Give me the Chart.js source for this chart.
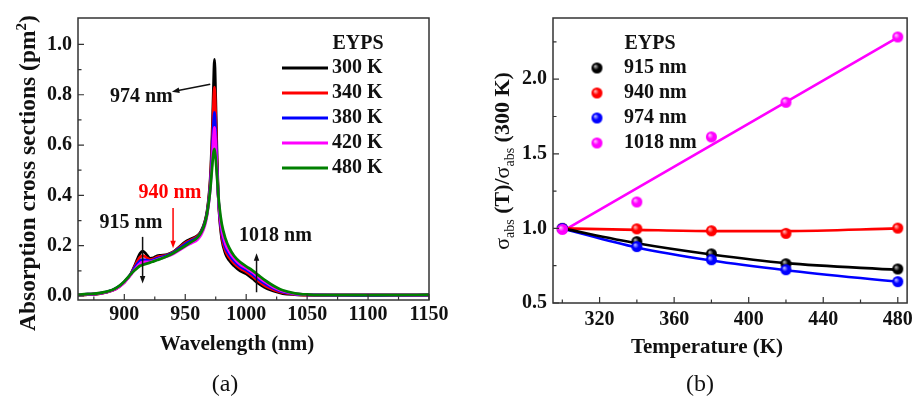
<!DOCTYPE html>
<html>
<head>
<meta charset="utf-8">
<script src="https://cdn.jsdelivr.net/npm/chart.js@4.4.0/dist/chart.umd.min.js"></script>
<style>
html, body { margin: 0; padding: 0; background: #fff; }
#wrap { position: relative; width: 918px; height: 403px; }
canvas { position: absolute; top: 0; }
#chartA { left: 0; }
#chartB { left: 459px; }
</style>
</head>
<body>
<div id="wrap">
  <canvas id="chartA" width="459" height="403"></canvas>
  <canvas id="chartB" width="459" height="403"></canvas>
</div>
<script>
// ---- panel (a): absorption spectra ----
var wavelengths = [860, 870, 880, 890, 895, 900, 905, 908, 911, 913, 915, 917, 919, 921, 924, 927, 930, 935, 940, 945, 950, 955, 960, 963, 966, 968, 970, 971, 972, 973, 974, 975, 976, 977, 978, 980, 983, 986, 990, 995, 1000, 1005, 1010, 1015, 1020, 1025, 1030, 1040, 1050, 1060, 1080, 1100, 1120, 1150];
var abs300 = [0.004, 0.006, 0.010, 0.022, 0.035, 0.055, 0.085, 0.115, 0.150, 0.170, 0.178, 0.172, 0.160, 0.150, 0.152, 0.160, 0.162, 0.165, 0.175, 0.195, 0.215, 0.228, 0.240, 0.258, 0.295, 0.340, 0.430, 0.510, 0.630, 0.800, 0.940, 0.780, 0.570, 0.410, 0.320, 0.225, 0.168, 0.142, 0.120, 0.100, 0.088, 0.070, 0.050, 0.035, 0.024, 0.016, 0.010, 0.006, 0.004, 0.003, 0.003, 0.003, 0.003, 0.004];
var abs340 = [0.004, 0.006, 0.010, 0.022, 0.035, 0.055, 0.085, 0.112, 0.140, 0.155, 0.160, 0.157, 0.150, 0.145, 0.148, 0.155, 0.158, 0.163, 0.174, 0.192, 0.211, 0.224, 0.237, 0.255, 0.292, 0.335, 0.420, 0.495, 0.600, 0.740, 0.830, 0.710, 0.540, 0.405, 0.325, 0.237, 0.180, 0.154, 0.130, 0.110, 0.096, 0.079, 0.059, 0.042, 0.030, 0.020, 0.013, 0.007, 0.004, 0.003, 0.003, 0.003, 0.003, 0.004];
var abs380 = [0.004, 0.007, 0.011, 0.023, 0.036, 0.056, 0.085, 0.108, 0.130, 0.141, 0.145, 0.144, 0.142, 0.140, 0.144, 0.150, 0.154, 0.161, 0.172, 0.189, 0.206, 0.220, 0.234, 0.253, 0.289, 0.332, 0.410, 0.475, 0.565, 0.670, 0.730, 0.645, 0.515, 0.405, 0.332, 0.250, 0.193, 0.165, 0.140, 0.118, 0.104, 0.087, 0.067, 0.050, 0.036, 0.025, 0.016, 0.008, 0.005, 0.004, 0.003, 0.003, 0.003, 0.004];
var abs420 = [0.005, 0.007, 0.011, 0.022, 0.034, 0.054, 0.082, 0.102, 0.120, 0.130, 0.135, 0.136, 0.136, 0.136, 0.140, 0.145, 0.150, 0.157, 0.167, 0.182, 0.197, 0.210, 0.224, 0.243, 0.279, 0.323, 0.400, 0.460, 0.535, 0.620, 0.670, 0.605, 0.495, 0.403, 0.340, 0.263, 0.207, 0.177, 0.150, 0.126, 0.111, 0.095, 0.075, 0.057, 0.042, 0.029, 0.019, 0.009, 0.005, 0.004, 0.004, 0.005, 0.004, 0.005];
var abs480 = [0.005, 0.008, 0.012, 0.024, 0.037, 0.058, 0.085, 0.100, 0.113, 0.120, 0.124, 0.127, 0.130, 0.133, 0.138, 0.143, 0.148, 0.158, 0.170, 0.185, 0.200, 0.215, 0.232, 0.252, 0.287, 0.330, 0.400, 0.450, 0.510, 0.565, 0.585, 0.545, 0.480, 0.410, 0.355, 0.285, 0.228, 0.192, 0.160, 0.135, 0.118, 0.102, 0.083, 0.064, 0.048, 0.034, 0.023, 0.011, 0.006, 0.004, 0.004, 0.004, 0.004, 0.005];
var spectrumLabels = ['300 K', '340 K', '380 K', '420 K', '480 K'];
var spectrumColors = ['#000000', '#ff0000', '#0000ff', '#ff00ff', '#008000'];
var spectra = [abs300, abs340, abs380, abs420, abs480];
var waveTicks = [900, 950, 1000, 1050, 1100, 1150];
var waveMinor = [875, 925, 975, 1025, 1075, 1125];
var absTicks = [0.0, 0.2, 0.4, 0.6, 0.8, 1.0];
var absMinor = [0.1, 0.3, 0.5, 0.7, 0.9];

// ---- panel (b): normalised cross sections vs temperature ----
var temperatures = [300, 340, 380, 420, 480];
var ratioLabels = ['915 nm', '940 nm', '974 nm', '1018 nm'];
var ratioColors = ['#000000', '#ff0000', '#0000ff', '#ff00ff'];
var ratio915 = [1.0, 0.911, 0.829, 0.763, 0.728];
var ratio940 = [1.0, 0.997, 0.984, 0.967, 1.002];
var ratio974 = [1.0, 0.878, 0.790, 0.723, 0.643];
var ratio1018 = [0.993, 1.177, 1.613, 1.845, 2.283];
var fit915 = [1.0, 0.900, 0.825, 0.767, 0.722];
var fit940 = [1.0, 0.990, 0.982, 0.982, 1.0];
var fit974 = [1.0, 0.872, 0.785, 0.720, 0.642];
var fitTemps1018 = [300, 480];
var fit1018 = [0.98, 2.28];
var tempTicks = [320, 360, 400, 440, 480];
var tempMinor = [300, 340, 380, 420, 460];
var ratioTicks = [0.5, 1.0, 1.5, 2.0];
var ratioMinor = [0.75, 1.25, 1.75, 2.25];

var SERIF = '"Liberation Serif", "Times New Roman", serif';
var tickFont = { family: SERIF, size: 20, weight: 'bold' };

function pairs(xs, ys) {
    return xs.map(function(x, i) { return { x: x, y: ys[i] }; });
}

function lighten(hex, f) {
    var n = parseInt(hex.slice(1), 16);
    var r = (n >> 16) & 255, g = (n >> 8) & 255, b = n & 255;
    r = Math.round(r + (255 - r) * f); g = Math.round(g + (255 - g) * f); b = Math.round(b + (255 - b) * f);
    return 'rgb(' + r + ',' + g + ',' + b + ')';
}

// shaded ball used as the marker in panel (b)
function ballImage(color, r) {
    var c = document.createElement('canvas');
    c.width = c.height = 2 * r + 2;
    var g = c.getContext('2d');
    var cx = r + 1;
    var grad = g.createRadialGradient(cx - r * 0.35, cx - r * 0.35, 0.3, cx, cx, r);
    grad.addColorStop(0, lighten(color, 0.75));
    grad.addColorStop(0.5, color);
    grad.addColorStop(1, color);
    g.fillStyle = grad;
    g.beginPath();
    g.arc(cx, cx, r, 0, Math.PI * 2);
    g.fill();
    return c;
}
var balls = ratioColors.map(function(c) { return ballImage(c, 5.5); });

function arrow(ctx, x1, y1, x2, y2, color) {
    var a = Math.atan2(y2 - y1, x2 - x1), h = 8;
    ctx.save();
    ctx.strokeStyle = color; ctx.fillStyle = color; ctx.lineWidth = 1.5;
    ctx.beginPath(); ctx.moveTo(x1, y1);
    ctx.lineTo(x2 - Math.cos(a) * h * 0.8, y2 - Math.sin(a) * h * 0.8); ctx.stroke();
    ctx.beginPath(); ctx.moveTo(x2, y2);
    ctx.lineTo(x2 - h * Math.cos(a - 0.35), y2 - h * Math.sin(a - 0.35));
    ctx.lineTo(x2 - h * Math.cos(a + 0.35), y2 - h * Math.sin(a + 0.35));
    ctx.closePath(); ctx.fill();
    ctx.restore();
}

function text(ctx, s, x, y, font, color, align) {
    ctx.save();
    ctx.font = font; ctx.fillStyle = color || '#111';
    ctx.textAlign = align || 'center'; ctx.textBaseline = 'middle';
    ctx.fillText(s, x, y);
    ctx.restore();
}

// rotated title built from pieces (for sub/superscripts)
function verticalTitle(ctx, pieces, cx, cy) {
    ctx.save();
    ctx.translate(cx, cy);
    ctx.rotate(-Math.PI / 2);
    ctx.fillStyle = '#111';
    ctx.textBaseline = 'alphabetic';
    var total = 0;
    pieces.forEach(function(p) { ctx.font = p.f; total += ctx.measureText(p.t).width; });
    var x = -total / 2;
    pieces.forEach(function(p) {
        ctx.font = p.f;
        ctx.fillText(p.t, x, 7 + (p.dy || 0));
        x += ctx.measureText(p.t).width;
    });
    ctx.restore();
}

function frameAndTicks(chart, xMajor, xMinor, yMajor, yMinor) {
    var ctx = chart.ctx, a = chart.chartArea;
    var xs = chart.scales.x, ys = chart.scales.y;
    ctx.save();
    ctx.strokeStyle = '#333'; ctx.lineWidth = 1.5;
    ctx.strokeRect(a.left, a.top, a.right - a.left, a.bottom - a.top);
    ctx.lineWidth = 1.2;
    ctx.beginPath();
    xMajor.forEach(function(v) { var p = xs.getPixelForValue(v); ctx.moveTo(p, a.bottom); ctx.lineTo(p, a.bottom - 6); });
    xMinor.forEach(function(v) { var p = xs.getPixelForValue(v); ctx.moveTo(p, a.bottom); ctx.lineTo(p, a.bottom - 3.5); });
    yMajor.forEach(function(v) { var p = ys.getPixelForValue(v); ctx.moveTo(a.left, p); ctx.lineTo(a.left + 6, p); });
    yMinor.forEach(function(v) { var p = ys.getPixelForValue(v); ctx.moveTo(a.left, p); ctx.lineTo(a.left + 3.5, p); });
    ctx.stroke();
    ctx.restore();
}

function fixedTicks(values) {
    return function(scale) { scale.ticks = values.map(function(v) { return { value: v }; }); };
}

var bold20 = 'bold 20px ' + SERIF;
var bold21 = 'bold 21px ' + SERIF;

var decorA = {
    id: 'decorA',
    afterDatasetsDraw: function(chart) {
        var ctx = chart.ctx, xs = chart.scales.x, ys = chart.scales.y, a = chart.chartArea;
        frameAndTicks(chart, waveTicks, waveMinor, absTicks, absMinor);
        // legend
        text(ctx, 'EYPS', a.left + 280, a.top + 26, bold20, '#111');
        spectrumLabels.forEach(function(l, i) {
            var y = a.top + 50 + i * 25;
            ctx.save(); ctx.strokeStyle = spectrumColors[i]; ctx.lineWidth = 3;
            ctx.beginPath(); ctx.moveTo(a.left + 204, y); ctx.lineTo(a.left + 250, y); ctx.stroke(); ctx.restore();
            text(ctx, l, a.left + 254, y, bold20, '#111', 'left');
        });
        // annotations in data coordinates
        text(ctx, '974 nm', xs.getPixelForValue(914), ys.getPixelForValue(0.79), bold20, '#111');
        arrow(ctx, xs.getPixelForValue(970.5), ys.getPixelForValue(0.842), xs.getPixelForValue(939), ys.getPixelForValue(0.812), '#111');
        text(ctx, '940 nm', xs.getPixelForValue(937.5), ys.getPixelForValue(0.41), bold20, '#ff0000');
        arrow(ctx, xs.getPixelForValue(940), ys.getPixelForValue(0.35), xs.getPixelForValue(940), ys.getPixelForValue(0.19), '#ff0000');
        text(ctx, '915 nm', xs.getPixelForValue(905.5), ys.getPixelForValue(0.29), bold20, '#111');
        arrow(ctx, xs.getPixelForValue(915), ys.getPixelForValue(0.235), xs.getPixelForValue(915), ys.getPixelForValue(0.05), '#111');
        text(ctx, '1018 nm', xs.getPixelForValue(1024), ys.getPixelForValue(0.24), bold20, '#111');
        arrow(ctx, xs.getPixelForValue(1008.5), ys.getPixelForValue(0.015), xs.getPixelForValue(1008.5), ys.getPixelForValue(0.17), '#111');
        // titles
        text(ctx, 'Wavelength (nm)', 237, 345, bold21, '#111');
        verticalTitle(ctx, [
            { t: 'Absorption cross sections (pm', f: 'bold 23.5px ' + SERIF },
            { t: '2', f: 'bold 15px ' + SERIF, dy: -9 },
            { t: ')', f: 'bold 23.5px ' + SERIF }
        ], 28, 173);
        text(ctx, '(a)', 225, 385, '24px "Liberation Serif"', '#111');
    }
};

var decorB = {
    id: 'decorB',
    afterDatasetsDraw: function(chart) {
        var ctx = chart.ctx, a = chart.chartArea;
        frameAndTicks(chart, tempTicks, tempMinor, ratioTicks, ratioMinor);
        text(ctx, 'EYPS', a.left + 97, a.top + 26, bold20, '#111');
        ratioLabels.forEach(function(l, i) {
            var y = a.top + 50 + i * 25;
            ctx.drawImage(balls[i], a.left + 44 - 6.5, y - 6.5);
            text(ctx, l, a.left + 71, y, bold20, '#111', 'left');
        });
        text(ctx, 'Temperature (K)', 248, 348, bold21, '#111');
        var reg = '22px ' + SERIF, sub = '14px ' + SERIF, bd = 'bold 22px ' + SERIF;
        verticalTitle(ctx, [
            { t: 'σ', f: reg }, { t: 'abs', f: sub, dy: 5 },
            { t: ' (T)/', f: bd },
            { t: 'σ', f: reg }, { t: 'abs', f: sub, dy: 5 },
            { t: ' (300 K)', f: bd }
        ], 43, 161);
        text(ctx, '(b)', 241, 385, '24px "Liberation Serif"', '#111');
    }
};

function axisOptions(min, max, tickVals, isX, size, pad) {
    var o = {
        type: 'linear', min: min, max: max,
        grid: { display: false, drawTicks: false },
        border: { display: false },
        afterBuildTicks: fixedTicks(tickVals),
        ticks: { font: tickFont, color: '#111', padding: pad, autoSkip: false, maxRotation: 0 }
    };
    if (isX) {
        o.ticks.callback = function(v) { return '' + v; };
        o.afterFit = function(s) { s.height = size; };
    } else {
        o.afterFit = function(s) { s.width = size; };
    }
    return o;
}

var datasetsA = spectra.map(function(vals, i) {
    return {
        label: spectrumLabels[i],
        data: pairs(wavelengths, vals),
        borderColor: spectrumColors[i],
        borderWidth: 2.8,
        pointRadius: 0,
        cubicInterpolationMode: 'monotone',
        order: spectra.length - 1 - i
    };
});

var yA = axisOptions(-0.0158, 1.105, absTicks, false, 78, 6);
yA.ticks.callback = function(v) { return v.toFixed(1); };
new Chart(document.getElementById('chartA'), {
    type: 'line',
    data: { datasets: datasetsA },
    options: {
        responsive: false, animation: false, devicePixelRatio: 1,
        layout: { padding: { top: 16, right: 30, left: 0, bottom: 0 } },
        plugins: { legend: { display: false }, tooltip: { enabled: false } },
        scales: { x: axisOptions(862, 1150, waveTicks, true, 103, 3), y: yA }
    },
    plugins: [decorA]
});

var ratioSets = [ratio915, ratio940, ratio974, ratio1018];
var fitSets = [pairs(temperatures, fit915), pairs(temperatures, fit940), pairs(temperatures, fit974), pairs(fitTemps1018, fit1018)];
var datasetsB = [];
fitSets.forEach(function(d, i) {
    datasetsB.push({
        label: ratioLabels[i] + ' fit', data: d, borderColor: ratioColors[i], borderWidth: 2.6,
        pointRadius: 0, cubicInterpolationMode: 'monotone', order: 10
    });
});
// the 1018 nm markers sit on top, as in the figure
ratioSets.forEach(function(vals, i) {
    datasetsB.push({
        label: ratioLabels[i], data: pairs(temperatures, vals), showLine: false,
        pointStyle: balls[i], pointRadius: 5.5, order: ratioSets.length - 1 - i
    });
});

var yB = axisOptions(0.5, 2.41, ratioTicks, false, 94, 6);
yB.ticks.callback = function(v) { return v.toFixed(1); };
new Chart(document.getElementById('chartB'), {
    type: 'line',
    data: { datasets: datasetsB },
    options: {
        responsive: false, animation: false, devicePixelRatio: 1,
        layout: { padding: { top: 16, right: 8, left: 0, bottom: 0 } },
        plugins: { legend: { display: false }, tooltip: { enabled: false } },
        scales: { x: axisOptions(295, 485, tempTicks, true, 100, 5), y: yB }
    },
    plugins: [decorB]
});
</script>
</body>
</html>
